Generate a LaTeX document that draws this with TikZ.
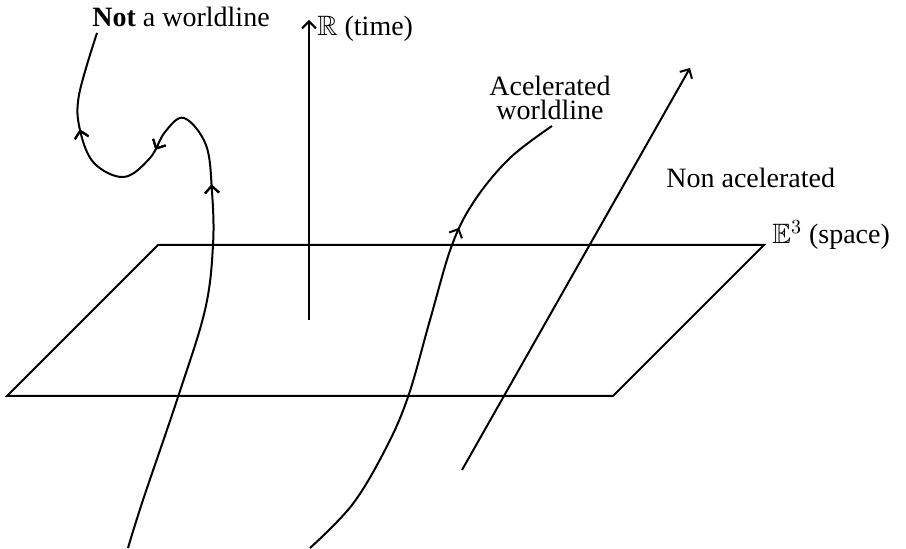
\documentclass[tikz,border=0pt]{standalone}
\usepackage{amssymb}
\usepackage{fontspec}
\setmainfont{Liberation Serif}
\usetikzlibrary{decorations.markings, arrows.meta}

\tikzset{
  line/.style = {line width=1pt, >={Straight Barb[length=3.5pt, width=7pt]}},
  midarrow/.style = {postaction={decorate}, decoration={markings,
      mark=at position #1 with {\arrow[line width=1pt]{Straight Barb[length=3.5pt, width=7pt]}}}},
  label/.style = {inner sep=0pt, font=\fontsize{14}{12}\selectfont}
}

\begin{document}
\begin{tikzpicture}[x=0.5pt, y=-0.5pt]
	\useasboundingbox (0,0) rectangle (906,549);
	% the space plane
	\coordinate (p1) at (158,245);
	\coordinate (p2) at (764,245);
	\coordinate (p3) at (613,396);
	\coordinate (p4) at (7,396);
	\draw [line] (p1) -- (p2) -- (p3) -- (p4) -- cycle;
	\node [label, anchor=base west] (space) at (772,244) {$\mathbb{E}^3$ (space)};
	% time axis
	\coordinate (t0) at (309,320);
	\coordinate (t1) at (309,20);
	\draw [line, ->] (t0) -- (t1);
	\node [label, anchor=base west] (time) at (317,36) {$\mathbb{R}$ (time)};
	% non accelerated worldline
	\coordinate (n0) at (462,470);
	\coordinate (n1) at (690,68);
	\draw [line, ->] (n0) -- (n1);
	\node [label, anchor=base west] (nonacc) at (666,188) {Non acelerated};
	% accelerated worldline
	\draw [line, midarrow=0.72] plot [smooth, tension=0.6] coordinates
		{(310,548) (352,505) (385,450) (408,397) (430,320) (452,245) (475,200) (510,158) (552,126)};
	\node [label, align=center, anchor=north] (acc) at (550,76) {Acelerated\\worldline};
	% not a worldline
	\draw [line, midarrow=0.53, midarrow=0.70, midarrow=0.86] plot [smooth, tension=0.6] coordinates
		{(128,548) (143,500) (178,397) (205,310) (213,245) (212,192) (206,145) (184,118)
		 (165,132) (150,158) (124,177) (94,163) (80,130) (79,95) (97,33)};
	\node [label, anchor=base west] (notwl) at (92,27) {\textbf{Not} a worldline};
\end{tikzpicture}
\end{document}
